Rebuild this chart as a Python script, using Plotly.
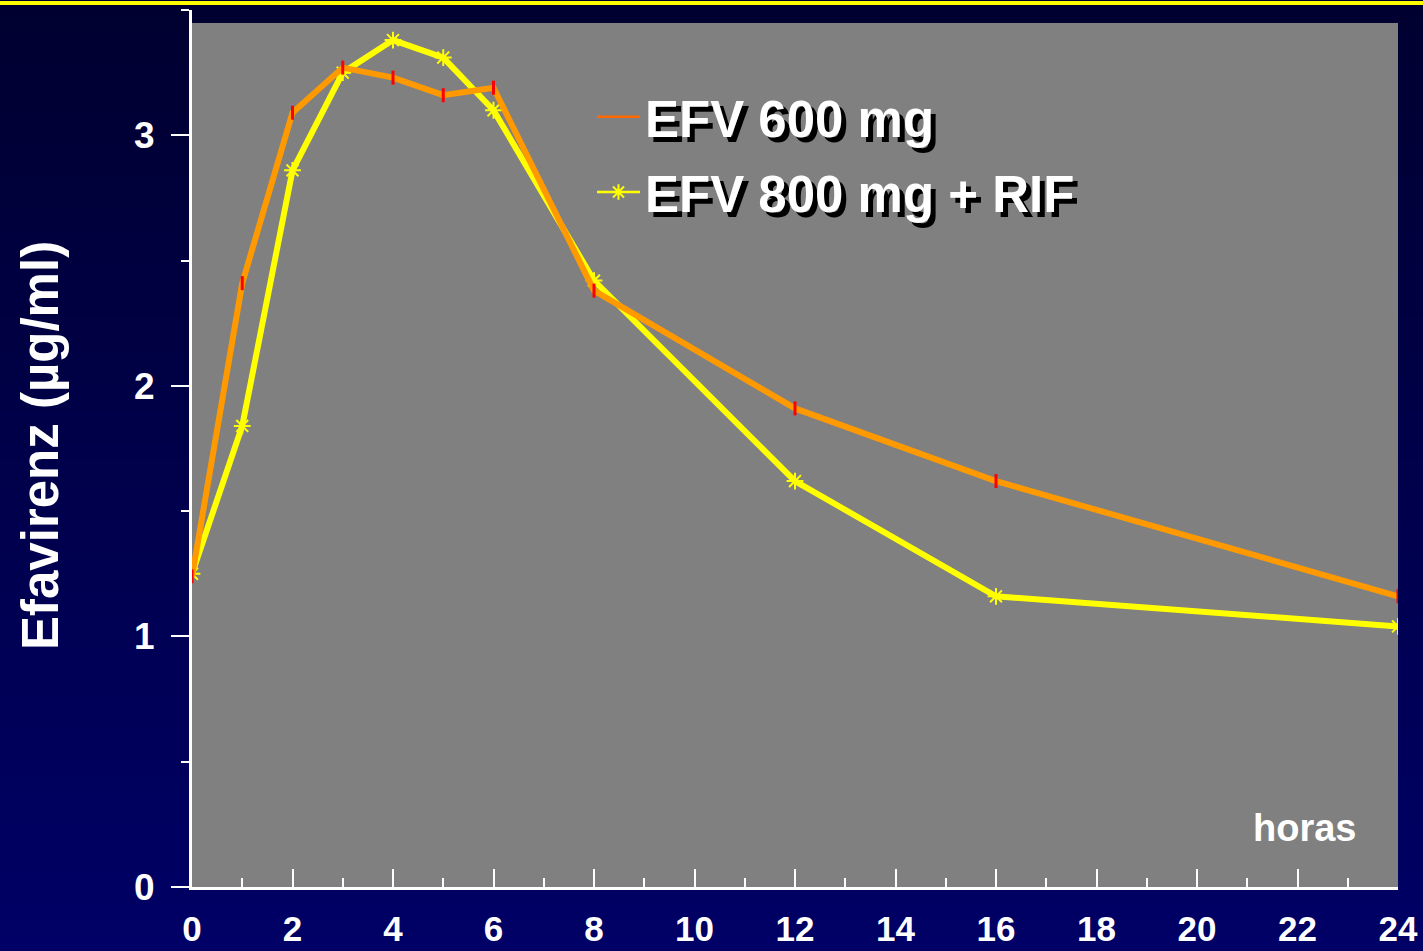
import plotly.graph_objects as go

# ---- data ----
hours = [0, 1, 2, 3, 4, 5, 6, 8, 12, 16, 24]
efv600 = [1.24, 2.41, 3.09, 3.27, 3.23, 3.16, 3.19, 2.38, 1.91, 1.62, 1.16]
efv800_rif = [1.25, 1.84, 2.86, 3.25, 3.38, 3.31, 3.10, 2.42, 1.62, 1.16, 1.04]
name600 = "EFV 600 mg"
name800 = "EFV 800 mg + RIF"
y_title = "Efavirenz (µg/ml)"
x_note = "horas"

W, H = 1423, 951
ML, MR, MT, MB = 192, 25, 10, 64
PW, PH = W - ML - MR, H - MT - MB
FONT = "Liberation Sans, Arial, sans-serif"


def py(p):
    """page pixel row -> paper y"""
    return (H - MB - p) / PH


def px(p):
    return (p - ML) / PW


fig = go.Figure()

# yellow series first (orange drawn on top)
fig.add_trace(go.Scatter(
    x=hours, y=efv800_rif, mode="lines+markers", showlegend=False,
    line=dict(color="#FFFF00", width=6),
    marker=dict(symbol="asterisk-open", size=14, color="#FFFF00",
                line=dict(color="#E8E800", width=2)),
))
fig.add_trace(go.Scatter(
    x=hours, y=efv600, mode="lines+markers", showlegend=False,
    line=dict(color="#FF9900", width=6),
    marker=dict(symbol="line-ns-open", size=10, color="#FF0000",
                line=dict(color="#FF0000", width=3)),
))

# legend proxies
fig.add_trace(go.Scatter(
    x=[None], y=[None], mode="lines", name=name600, legendgroup="a",
    line=dict(color="#FF6A00", width=2.5),
))
fig.add_trace(go.Scatter(
    x=[None], y=[None], mode="lines+markers", name=name800, legendgroup="b",
    line=dict(color="#FFFF00", width=2.5),
    marker=dict(symbol="asterisk-open", size=13, color="#FFFF00",
                line=dict(color="#FFFF00", width=2)),
))

shapes = []
# page gradient background
N = 60
top_c, bot_c = (0, 0, 48), (0, 0, 102)
for i in range(N):
    t = i / (N - 1)
    c = tuple(round(top_c[k] + (bot_c[k] - top_c[k]) * t) for k in range(3))
    p0 = H * i / N
    p1 = H * (i + 1) / N + 1
    shapes.append(dict(type="rect", xref="paper", yref="paper",
                       x0=px(-5), x1=px(W + 5), y0=py(p1), y1=py(p0),
                       fillcolor="rgb(%d,%d,%d)" % c, line=dict(width=0),
                       layer="below"))
# top yellow band
shapes.append(dict(type="rect", xref="paper", yref="paper",
                   x0=px(-5), x1=px(W + 5), y0=py(5), y1=py(1),
                   fillcolor="#FFFF00", line=dict(width=0), layer="above"))
# gray plot area
shapes.append(dict(type="rect", xref="x", yref="y", x0=0, x1=24, y0=0,
                   y1=(H - MB - 23) / (PH / 3.5),
                   fillcolor="#808080", line=dict(width=0), layer="below"))

annotations = [
    dict(text=y_title, textangle=-90, xref="paper", yref="paper",
         x=px(40), y=py(446), xanchor="center", yanchor="middle",
         showarrow=False,
         font=dict(family=FONT, size=51, color="white", weight="bold")),
    dict(text=x_note, xref="paper", yref="paper", x=px(1304), y=py(828),
         xanchor="center", yanchor="middle", showarrow=False,
         font=dict(family=FONT, size=38, color="white", weight="bold")),
]

fig.update_layout(
    width=W, height=H,
    margin=dict(l=ML, r=MR, t=MT, b=MB, autoexpand=False),
    paper_bgcolor="rgb(0,0,80)",
    plot_bgcolor="rgba(0,0,0,0)",
    shapes=shapes,
    annotations=annotations,
    showlegend=True,
    legend=dict(
        x=px(592), y=py(77), xanchor="left", yanchor="top",
        bgcolor="rgba(0,0,0,0)", borderwidth=0,
        traceorder="grouped", tracegroupgap=6, itemwidth=43,
        font=dict(family=FONT, size=51, color="white", weight="bold",
                  shadow="5px 5px 0px #000000"),
    ),
    xaxis=dict(
        range=[0, 24], tickmode="linear", tick0=0, dtick=2,
        ticks="inside", ticklen=18, tickwidth=2, tickcolor="white",
        showline=True, linecolor="white", linewidth=3,
        showgrid=False, zeroline=False,
        tickfont=dict(family=FONT, size=35, color="white", weight="bold"),
        ticklabelstandoff=9,
        minor=dict(dtick=1, tick0=0, ticks="inside", ticklen=9,
                   tickwidth=2, tickcolor="white", showgrid=False),
    ),
    yaxis=dict(
        range=[0, 3.5], tickmode="linear", tick0=0, dtick=1,
        ticks="outside", ticklen=18, tickwidth=2, tickcolor="white",
        showline=True, linecolor="white", linewidth=3,
        showgrid=False, zeroline=False,
        tickfont=dict(family=FONT, size=37, color="white", weight="bold"),
        ticklabelstandoff=9,
        minor=dict(dtick=0.5, tick0=0, ticks="outside", ticklen=8,
                   tickwidth=2, tickcolor="white", showgrid=False),
    ),
)

fig.write_html("out.html")
